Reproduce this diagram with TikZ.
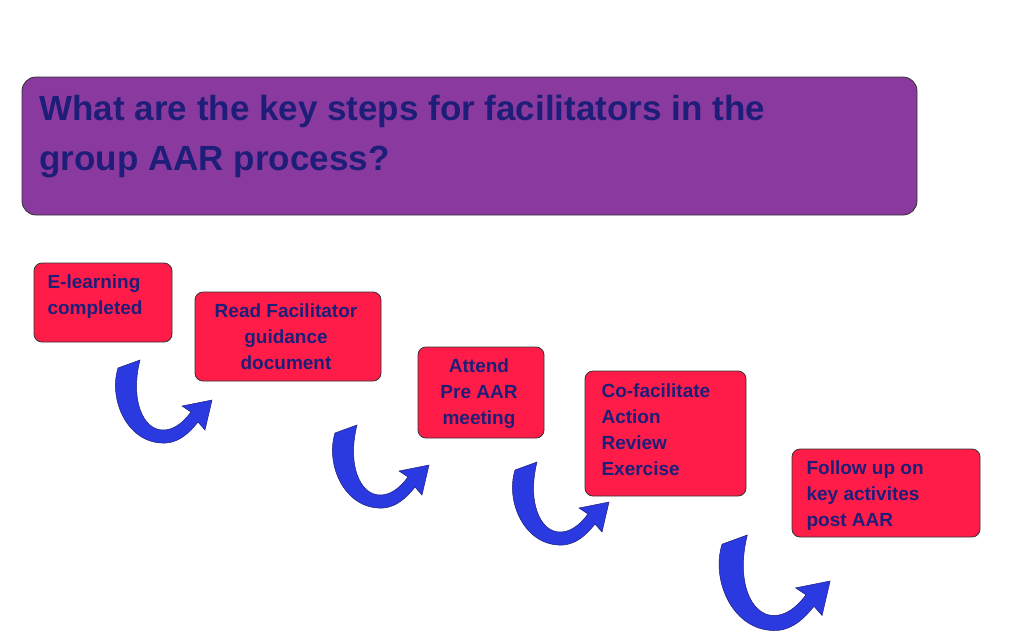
\documentclass[tikz,border=0pt]{standalone}
\usepackage{fontspec}
\setmainfont{Liberation Sans}
\definecolor{titlefill}{HTML}{8A3A9E}
\definecolor{titletext}{HTML}{1E1E78}
\definecolor{stepfill}{HTML}{FF1C48}
\definecolor{arrowblue}{HTML}{2A3AE0}
\tikzset{
  stepbox/.style={draw=black!80, fill=stepfill, rounded corners=8pt, line width=0.8pt},
  steptext/.style={font=\bfseries\fontsize{19}{26}\selectfont, text=titletext, align=left, anchor=north west},
}
\newcommand{\curvearrow}[3]{%
  \fill[arrowblue, draw=titletext, line width=0.5pt, shift={(#1,#2)}, scale=#3]
    (0,8) .. controls (-10,40) and (10,85) .. (48,83)
    .. controls (62,82) and (72,72) .. (80,62) -- (87,70) -- (94,40) -- (64,46) -- (73,52)
    .. controls (64,64) and (55,70) .. (45,70)
    .. controls (25,70) and (12,40) .. (22,0) -- cycle;}
\begin{document}
\begin{tikzpicture}[x=1pt, y=-1pt]
    \useasboundingbox (0,0) rectangle (1024,635);

    % title
    \draw[fill=titlefill, draw=black!80, rounded corners=14pt, line width=0.8pt] (22,77) rectangle (917,215);
    \node[anchor=north west, align=left, text=titletext, font=\bfseries\fontsize{35}{50}\selectfont] (title) at (36,92)
      {What are the key steps for facilitators in the\\group AAR process?};

    % steps
    \draw[stepbox] (34,263) rectangle (172,342);
    \node[steptext] (elearn) at (44,271) {E-learning\\completed};
    \draw[stepbox] (195,292) rectangle (381,381);
    \node[steptext, align=center, anchor=north] (guide) at (286,300) {Read Facilitator\\guidance\\document};
    \draw[stepbox] (418,347) rectangle (544,438);
    \node[steptext, align=center, anchor=north] (preaar) at (479,355) {Attend\\Pre AAR\\meeting};
    \draw[stepbox] (585,371) rectangle (746,496);
    \node[steptext] (cofac) at (598,380) {Co-facilitate\\Action\\Review\\Exercise};
    \draw[stepbox] (792,449) rectangle (980,537);
    \node[steptext] (follow) at (803,457) {Follow up on\\key activites\\post AAR};

    % arrows
    \curvearrow{118}{360}{1}
    \curvearrow{335}{425}{1}
    \curvearrow{515}{462}{1}
    \curvearrow{722}{535}{1.15}
\end{tikzpicture}
\end{document}
